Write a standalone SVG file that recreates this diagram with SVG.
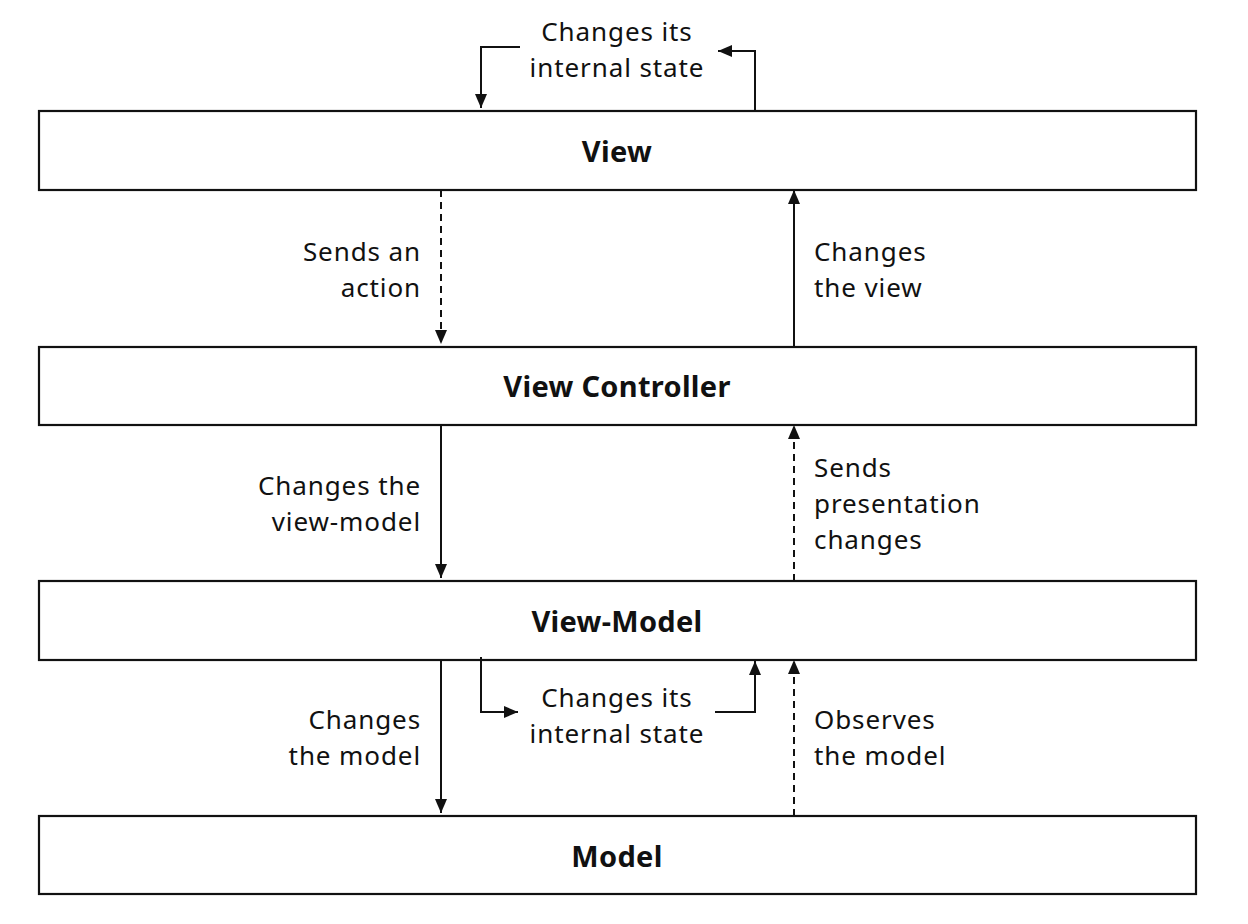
<svg xmlns="http://www.w3.org/2000/svg" width="1248" height="924" viewBox="0 0 1248 924">
<style>
.box{fill:#fff;stroke:#111;stroke-width:2.2}
.title{font-family:"Noto Sans","Liberation Sans",sans-serif;font-weight:bold;font-size:29px;letter-spacing:0.3px;fill:#111;text-anchor:middle}
.lbl{font-family:"Noto Sans","Liberation Sans",sans-serif;font-size:26px;letter-spacing:0.9px;fill:#111}
.r{text-anchor:end}
.m{text-anchor:middle}
.ln{fill:none;stroke:#111;stroke-width:2}
.dash{stroke-dasharray:7,5}
</style>
<defs>
<marker id="ah" viewBox="0 0 14 12" refX="14" refY="6" markerWidth="14" markerHeight="12" markerUnits="userSpaceOnUse" orient="auto">
<path d="M0,0 L14,6 L0,12 Z" fill="#111"/>
</marker>
</defs>
<rect width="1248" height="924" fill="#fff"/>
<g id="view"><rect class="box" x="39" y="111" width="1157" height="79"/><text class="title" x="617" y="162">View</text></g>
<g id="view-controller"><rect class="box" x="39" y="347" width="1157" height="78"/><text class="title" x="617" y="397">View Controller</text></g>
<g id="view-model"><rect class="box" x="39" y="581" width="1157" height="79"/><text class="title" x="617" y="632">View-Model</text></g>
<g id="model"><rect class="box" x="39" y="816" width="1157" height="78"/><text class="title" x="617" y="867">Model</text></g>
<g id="connectors">
<path class="ln" d="M520,47 H481 V108" marker-end="url(#ah)"/>
<path class="ln" d="M755,111 V51 H718" marker-end="url(#ah)"/>
<path class="ln dash" d="M441,190 V344" marker-end="url(#ah)"/>
<path class="ln" d="M794,347 V190" marker-end="url(#ah)"/>
<path class="ln" d="M441,425 V578" marker-end="url(#ah)"/>
<path class="ln dash" d="M794,581 V425" marker-end="url(#ah)"/>
<path class="ln" d="M441,660 V813" marker-end="url(#ah)"/>
<path class="ln dash" d="M794,816 V660" marker-end="url(#ah)"/>
<path class="ln" d="M481,657 V712 H518" marker-end="url(#ah)"/>
<path class="ln" d="M715,712 H755 V661" marker-end="url(#ah)"/>
</g>
<g id="labels">
<text class="lbl m" x="617" y="41">Changes its</text>
<text class="lbl m" x="617" y="77">internal state</text>
<text class="lbl r" x="421" y="261">Sends an</text>
<text class="lbl r" x="421" y="297">action</text>
<text class="lbl" x="814" y="261">Changes</text>
<text class="lbl" x="814" y="297">the view</text>
<text class="lbl r" x="421" y="495">Changes the</text>
<text class="lbl r" x="421" y="531">view-model</text>
<text class="lbl" x="814" y="477">Sends</text>
<text class="lbl" x="814" y="513">presentation</text>
<text class="lbl" x="814" y="549">changes</text>
<text class="lbl m" x="617" y="707">Changes its</text>
<text class="lbl m" x="617" y="743">internal state</text>
<text class="lbl r" x="421" y="729">Changes</text>
<text class="lbl r" x="421" y="765">the model</text>
<text class="lbl" x="814" y="729">Observes</text>
<text class="lbl" x="814" y="765">the model</text>
</g>
</svg>
